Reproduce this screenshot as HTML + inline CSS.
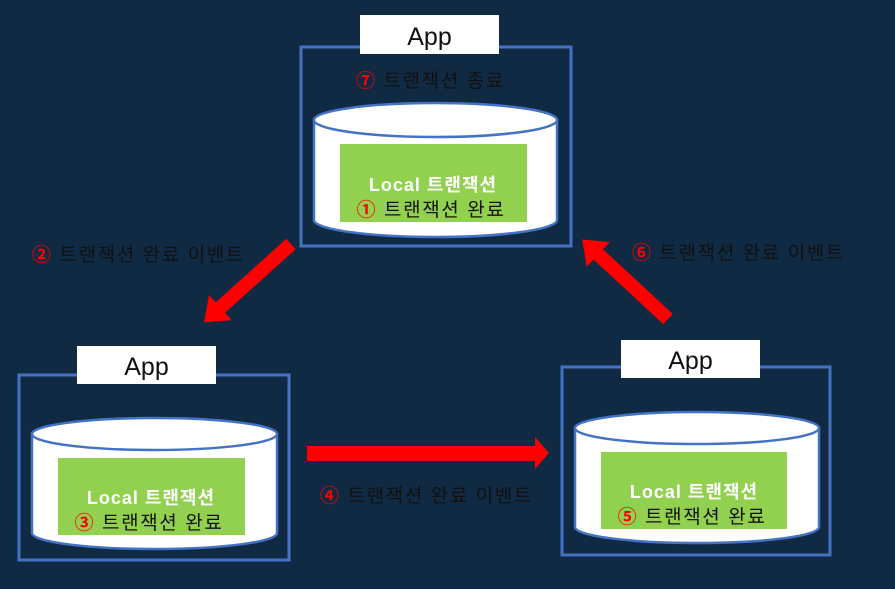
<!DOCTYPE html>
<html><head><meta charset="utf-8"><style>
html,body{margin:0;padding:0;background:#0f2a42;}
svg{display:block}
text{font-family:"Liberation Sans","Noto Sans CJK KR",sans-serif;}
.lbl{letter-spacing:1.6px}
.num{font-weight:bold}
</style></head><body>
<svg width="895" height="589" viewBox="0 0 895 589" xmlns="http://www.w3.org/2000/svg">
<rect width="895" height="589" fill="#0f2a42"/>
<defs>
<g id="arr"><polygon points="0,-7 95,-7 95,-17 117,0 95,17 95,7 0,7" fill="#ff0000"/></g>
</defs>

<!-- TOP -->
<rect x="301" y="47" width="270" height="199" fill="none" stroke="#4472c4" stroke-width="3"/>
<rect x="360" y="15" width="139" height="39" fill="#fff"/>
<text x="429.5" y="45" font-size="25" text-anchor="middle" fill="#111">App</text>
<text x="356" y="87" font-size="19" fill="#111" class="lbl"><tspan fill="#ff0000" class="num">⑦</tspan> 트랜잭션 종료</text>
<path d="M314,120 L314,220 A121.5,17 0 0 0 557,220 L557,120 Z" fill="#fff" stroke="#4472c4" stroke-width="2.5"/>
<ellipse cx="435.5" cy="120" rx="121.5" ry="17" fill="#fff" stroke="#4472c4" stroke-width="2.5"/>
<rect x="340" y="144" width="187" height="78" fill="#92d050"/>
<text x="433" y="191" font-size="18" font-weight="bold" text-anchor="middle" fill="#fff" letter-spacing="1">Local 트랜잭션</text>
<text x="431" y="216" font-size="19" text-anchor="middle" fill="#111" class="lbl"><tspan fill="#ff0000" class="num">①</tspan> 트랜잭션 완료</text>

<!-- LEFT -->
<rect x="19" y="375" width="270" height="185" fill="none" stroke="#4472c4" stroke-width="3"/>
<rect x="77" y="346" width="139" height="38" fill="#fff"/>
<text x="146.5" y="375" font-size="25" text-anchor="middle" fill="#111">App</text>
<path d="M32,434 L32,533 A122.5,16 0 0 0 277,533 L277,434 Z" fill="#fff" stroke="#4472c4" stroke-width="2.5"/>
<ellipse cx="154.5" cy="434" rx="122.5" ry="16" fill="#fff" stroke="#4472c4" stroke-width="2.5"/>
<rect x="58" y="458" width="187" height="77" fill="#92d050"/>
<text x="151" y="504" font-size="18" font-weight="bold" text-anchor="middle" fill="#fff" letter-spacing="1">Local 트랜잭션</text>
<text x="149" y="529" font-size="19" text-anchor="middle" fill="#111" class="lbl"><tspan fill="#ff0000" class="num">③</tspan> 트랜잭션 완료</text>

<!-- RIGHT -->
<rect x="562" y="367" width="268" height="188" fill="none" stroke="#4472c4" stroke-width="3"/>
<rect x="621" y="340" width="139" height="38" fill="#fff"/>
<text x="690.5" y="369" font-size="25" text-anchor="middle" fill="#111">App</text>
<path d="M575,428 L575,527 A122,16 0 0 0 819,527 L819,428 Z" fill="#fff" stroke="#4472c4" stroke-width="2.5"/>
<ellipse cx="697" cy="428" rx="122" ry="16" fill="#fff" stroke="#4472c4" stroke-width="2.5"/>
<rect x="601" y="452" width="186" height="77" fill="#92d050"/>
<text x="694" y="498" font-size="18" font-weight="bold" text-anchor="middle" fill="#fff" letter-spacing="1">Local 트랜잭션</text>
<text x="692" y="523" font-size="19" text-anchor="middle" fill="#111" class="lbl"><tspan fill="#ff0000" class="num">⑤</tspan> 트랜잭션 완료</text>

<!-- ARROWS -->
<use href="#arr" transform="translate(291,244) rotate(138)"/>
<polygon points="307,446 535,446 535,437 549,453 535,469 535,461 307,461" fill="#ff0000"/>
<use href="#arr" transform="translate(668,319) rotate(222.8)"/>

<!-- LABELS -->
<text x="32" y="261" font-size="19" fill="#111" class="lbl"><tspan fill="#ff0000" class="num">②</tspan> 트랜잭션 완료 이벤트</text>
<text x="320" y="502" font-size="19" fill="#111" class="lbl"><tspan fill="#ff0000" class="num">④</tspan> 트랜잭션 완료 이벤트</text>
<text x="632" y="259" font-size="19" fill="#111" class="lbl"><tspan fill="#ff0000" class="num">⑥</tspan> 트랜잭션 완료 이벤트</text>
</svg>
</body></html>
